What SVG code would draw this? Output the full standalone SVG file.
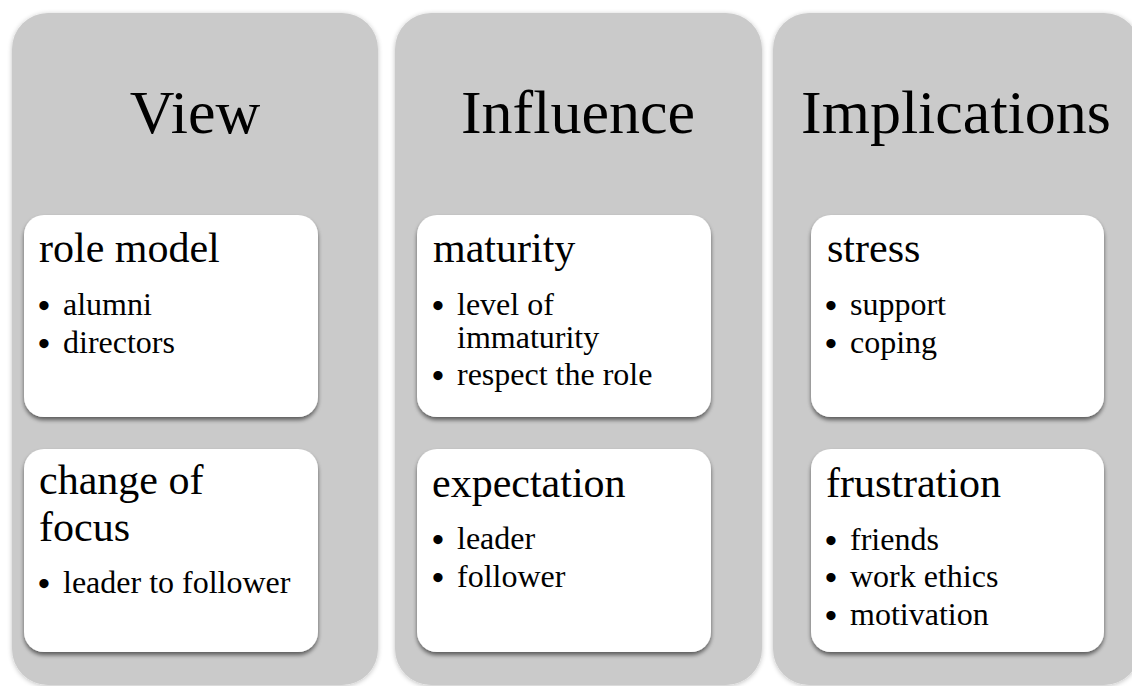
<svg xmlns="http://www.w3.org/2000/svg" width="1132" height="686" viewBox="0 0 1132 686">
<defs>
<filter id="colShadow" x="-10%" y="-10%" width="120%" height="120%">
<feGaussianBlur in="SourceAlpha" stdDeviation="2.5"/>
<feOffset dx="0" dy="1" result="b"/>
<feComponentTransfer><feFuncA type="linear" slope="0.25"/></feComponentTransfer>
<feMerge><feMergeNode/><feMergeNode in="SourceGraphic"/></feMerge>
</filter>
<filter id="boxShadow" x="-10%" y="-10%" width="120%" height="130%">
<feGaussianBlur in="SourceAlpha" stdDeviation="2"/>
<feOffset dx="0" dy="3" result="b"/>
<feComponentTransfer><feFuncA type="linear" slope="0.55"/></feComponentTransfer>
<feMerge><feMergeNode/><feMergeNode in="SourceGraphic"/></feMerge>
</filter>
</defs>
<style>
.col{fill:#cacaca;filter:url(#colShadow)}
.box{fill:#ffffff;filter:url(#boxShadow)}
text{font-family:"Liberation Serif","Times New Roman",serif;fill:#000}
.title{font-size:62px;text-anchor:middle}
.head{font-size:42px}
.item{font-size:32px}
.bul{font-size:34px;font-weight:bold}
</style>
<rect width="1132" height="686" fill="#ffffff"/>
<g id="connectors"></g>
<g id="col-view">
<rect class="col" x="12" y="13" width="366" height="672" rx="36"/>
<text class="title" x="195" y="133">View</text>
</g>
<g id="col-influence">
<rect class="col" x="395" y="13" width="367" height="672" rx="36"/>
<text class="title" x="578" y="133">Influence</text>
</g>
<g id="col-implications">
<rect class="col" x="773" y="13" width="367" height="672" rx="36"/>
<text class="title" x="956" y="133">Implications</text>
</g>
<g id="box-role-model">
<rect class="box" x="24" y="215" width="294" height="202" rx="20"/>
<text class="head" x="39" y="262">role model</text>
<text class="item" y="315"><tspan class="bul" x="38" dy="2">•</tspan><tspan x="63" dy="-2">alumni</tspan></text>
<text class="item" y="353"><tspan class="bul" x="38" dy="2">•</tspan><tspan x="63" dy="-2">directors</tspan></text>
</g>
<g id="box-change-of-focus">
<rect class="box" x="24" y="449" width="294" height="203" rx="20"/>
<text class="head" x="39" y="494">change of</text>
<text class="head" x="39" y="541">focus</text>
<text class="item" y="593"><tspan class="bul" x="38" dy="2">•</tspan><tspan x="63" dy="-2">leader to follower</tspan></text>
</g>
<g id="box-maturity">
<rect class="box" x="417" y="215" width="294" height="202" rx="20"/>
<text class="head" x="433" y="262">maturity</text>
<text class="item" y="315"><tspan class="bul" x="432" dy="2">•</tspan><tspan x="457" dy="-2">level of</tspan><tspan x="457" y="348">immaturity</tspan></text>
<text class="item" y="385"><tspan class="bul" x="432" dy="2">•</tspan><tspan x="457" dy="-2">respect the role</tspan></text>
</g>
<g id="box-expectation">
<rect class="box" x="417" y="449" width="294" height="203" rx="20"/>
<text class="head" x="432" y="497">expectation</text>
<text class="item" y="549"><tspan class="bul" x="432" dy="2">•</tspan><tspan x="457" dy="-2">leader</tspan></text>
<text class="item" y="587"><tspan class="bul" x="432" dy="2">•</tspan><tspan x="457" dy="-2">follower</tspan></text>
</g>
<g id="box-stress">
<rect class="box" x="811" y="215" width="293" height="202" rx="20"/>
<text class="head" x="827" y="262">stress</text>
<text class="item" y="315"><tspan class="bul" x="825" dy="2">•</tspan><tspan x="850" dy="-2">support</tspan></text>
<text class="item" y="353"><tspan class="bul" x="825" dy="2">•</tspan><tspan x="850" dy="-2">coping</tspan></text>
</g>
<g id="box-frustration">
<rect class="box" x="811" y="449" width="293" height="203" rx="20"/>
<text class="head" x="826" y="497">frustration</text>
<text class="item" y="550"><tspan class="bul" x="825" dy="2">•</tspan><tspan x="850" dy="-2">friends</tspan></text>
<text class="item" y="587"><tspan class="bul" x="825" dy="2">•</tspan><tspan x="850" dy="-2">work ethics</tspan></text>
<text class="item" y="625"><tspan class="bul" x="825" dy="2">•</tspan><tspan x="850" dy="-2">motivation</tspan></text>
</g>
</svg>
